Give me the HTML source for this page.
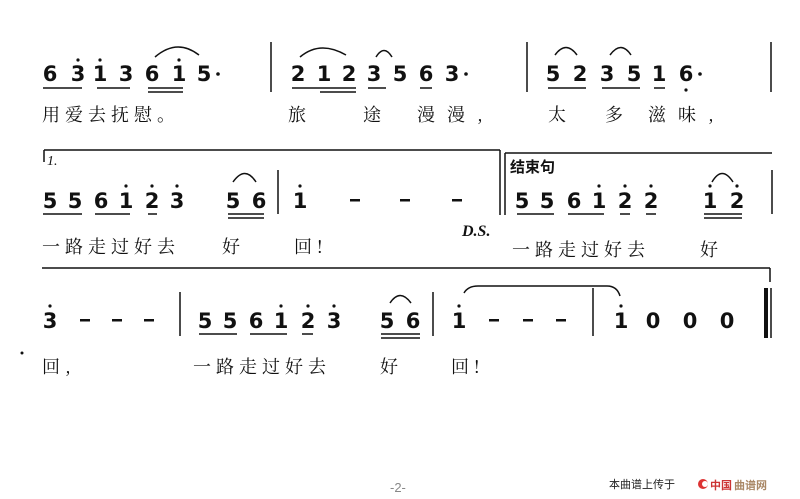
<!DOCTYPE html>
<html><head><meta charset="utf-8"><style>
body{margin:0;background:#fff}
svg{display:block}
.n{font:bold 21px "DejaVu Sans","Liberation Sans",sans-serif;fill:#111;text-anchor:middle}
.l{font:18px "Noto Serif CJK SC","Noto Sans CJK SC",serif;fill:#111;letter-spacing:5px}
</style></head><body>
<svg width="800" height="499" viewBox="0 0 800 499" xmlns="http://www.w3.org/2000/svg" stroke="#111" fill="none">
<!-- Row 1 -->
<g stroke="none">
<text class="n" x="50" y="81">6</text><text class="n" x="78" y="81">3</text><text class="n" x="100" y="81">1</text><text class="n" x="126" y="81">3</text><text class="n" x="152" y="81">6</text><text class="n" x="179" y="81">1</text><text class="n" x="204" y="81">5</text>
<circle cx="218" cy="74" r="1.8" fill="#111"/>
<circle cx="78" cy="60" r="1.6" fill="#111"/><circle cx="100" cy="60" r="1.6" fill="#111"/><circle cx="179" cy="60" r="1.6" fill="#111"/>
<text class="n" x="298" y="81">2</text><text class="n" x="324" y="81">1</text><text class="n" x="349" y="81">2</text><text class="n" x="374" y="81">3</text><text class="n" x="400" y="81">5</text><text class="n" x="426" y="81">6</text><text class="n" x="452" y="81">3</text>
<circle cx="466" cy="74" r="1.8" fill="#111"/>
<text class="n" x="553" y="81">5</text><text class="n" x="580" y="81">2</text><text class="n" x="607" y="81">3</text><text class="n" x="634" y="81">5</text><text class="n" x="659" y="81">1</text><text class="n" x="686" y="81">6</text>
<circle cx="700" cy="74" r="1.8" fill="#111"/><circle cx="686" cy="90" r="1.6" fill="#111"/>
</g>
<g stroke-width="1.5">
<path d="M43 88H82M97 88H130M148 88H183M148 92H183"/>
<path d="M292 88H356M320 92H356M368 88H386M420 88H432"/>
<path d="M548 88H586M602 88H640M654 88H665"/>
<path d="M271 42V92M527 42V92M771 42V92"/>
<path d="M155 57Q177 38 199 55M300 57Q320 40 346 55M376 57Q384 44 392 57M555 55Q566 40 577 55M610 55Q621 40 631 55"/>
</g>
<g stroke="none">
<text class="l" x="42" y="121">用爱去抚慰。</text>
<text class="l" x="288" y="121">旅</text><text class="l" x="363" y="121">途</text><text class="l" x="417" y="121" style="letter-spacing:12px">漫漫,</text>
<text class="l" x="548" y="121">太</text><text class="l" x="605" y="121">多</text><text class="l" x="648" y="121" style="letter-spacing:12px">滋味,</text>
</g>
<!-- Row 2 -->
<g stroke-width="1.5">
<path d="M44 150H500M44 150V162M505 153H772M505 153V215M500 150V215"/>
<path d="M43 214H82M95 214H130M148 214H157M228 214H264M228 218H264M278 170V214"/>
<path d="M517 214H554M568 214H604M620 214H630M646 214H656M704 214H742M704 218H742M772 170V214"/>
<path d="M233 182Q245 165 256 182M712 182Q722 165 733 182"/>
<path d="M42 268H770M770 268V282"/>
</g>
<g stroke="none">
<text x="47" y="165" style="font:italic 14px 'Liberation Serif',serif" fill="#111">1.</text>
<text class="n" x="50" y="208">5</text><text class="n" x="75" y="208">5</text><text class="n" x="101" y="208">6</text><text class="n" x="126" y="208">1</text><text class="n" x="152" y="208">2</text><text class="n" x="177" y="208">3</text><text class="n" x="233" y="208">5</text><text class="n" x="259" y="208">6</text>
<circle cx="126" cy="186" r="1.6" fill="#111"/><circle cx="152" cy="186" r="1.6" fill="#111"/><circle cx="177" cy="186" r="1.6" fill="#111"/>
<text class="n" x="300" y="208">1</text><circle cx="300" cy="186" r="1.6" fill="#111"/>
<rect x="350" y="199" width="10" height="2.5" fill="#111"/><rect x="400" y="199" width="10" height="2.5" fill="#111"/><rect x="452" y="199" width="10" height="2.5" fill="#111"/>
<text x="510" y="172" style="font:bold 15px 'Noto Sans CJK SC',sans-serif" fill="#111">结束句</text>
<text class="n" x="522" y="208">5</text><text class="n" x="547" y="208">5</text><text class="n" x="574" y="208">6</text><text class="n" x="599" y="208">1</text><text class="n" x="625" y="208">2</text><text class="n" x="651" y="208">2</text><text class="n" x="710" y="208">1</text><text class="n" x="737" y="208">2</text>
<circle cx="599" cy="186" r="1.6" fill="#111"/><circle cx="625" cy="186" r="1.6" fill="#111"/><circle cx="651" cy="186" r="1.6" fill="#111"/><circle cx="710" cy="186" r="1.6" fill="#111"/><circle cx="737" cy="186" r="1.6" fill="#111"/>
<text class="l" x="42" y="253">一路走过好去</text><text class="l" x="222" y="253">好</text><text class="l" x="294" y="253">回!</text>
<text x="462" y="236" style="font:bold italic 16px 'Liberation Serif',serif" fill="#111">D.S.</text>
<text class="l" x="512" y="256">一路走过好去</text><text class="l" x="700" y="256">好</text>
</g>
<!-- Row 3 -->
<g stroke="none">
<text class="n" x="50" y="328">3</text><circle cx="50" cy="306" r="1.6" fill="#111"/>
<rect x="80" y="319" width="10" height="2.5" fill="#111"/><rect x="112" y="319" width="10" height="2.5" fill="#111"/><rect x="144" y="319" width="10" height="2.5" fill="#111"/>
<text class="n" x="205" y="328">5</text><text class="n" x="230" y="328">5</text><text class="n" x="256" y="328">6</text><text class="n" x="281" y="328">1</text><text class="n" x="308" y="328">2</text><text class="n" x="334" y="328">3</text><text class="n" x="387" y="328">5</text><text class="n" x="413" y="328">6</text>
<circle cx="281" cy="306" r="1.6" fill="#111"/><circle cx="308" cy="306" r="1.6" fill="#111"/><circle cx="334" cy="306" r="1.6" fill="#111"/>
<text class="n" x="459" y="328">1</text><circle cx="459" cy="306" r="1.6" fill="#111"/>
<rect x="489" y="319" width="10" height="2.5" fill="#111"/><rect x="523" y="319" width="10" height="2.5" fill="#111"/><rect x="556" y="319" width="10" height="2.5" fill="#111"/>
<text class="n" x="621" y="328">1</text><circle cx="621" cy="306" r="1.6" fill="#111"/>
<text class="n" x="653" y="328">0</text><text class="n" x="690" y="328">0</text><text class="n" x="727" y="328">0</text>
<rect x="764" y="288" width="4" height="50" fill="#111"/>
</g>
<g stroke-width="1.5">
<path d="M180 292V336M433 292V336M593 288V336M771 288V338"/>
<path d="M199 334H237M250 334H287M302 334H313M381 334H420M381 338H420"/>
<path d="M464 293Q468 286 478 286H607Q617 286 620 296"/>
<path d="M390 303Q400 288 411 303"/>
</g>
<g stroke="none">
<circle cx="22" cy="353" r="1.5" fill="#111"/>
<text class="l" x="42" y="373">回,</text>
<text class="l" x="193" y="373">一路走过好去</text><text class="l" x="380" y="373">好</text><text class="l" x="451" y="373">回!</text>
<text x="390" y="492" style="font:13px 'Liberation Sans',sans-serif" fill="#888">-2-</text>
<text x="609" y="488" style="font:11px 'Noto Sans CJK SC',sans-serif" fill="#222">本曲谱上传于</text>
<circle cx="703" cy="484" r="5" fill="#d33"/><circle cx="705" cy="484" r="3" fill="#fff"/>
<text x="710" y="489" style="font:bold 11px 'Noto Sans CJK SC',sans-serif" fill="#c33">中国</text>
<text x="734" y="489" style="font:bold 11px 'Noto Sans CJK SC',sans-serif" fill="#a86">曲谱网</text>
</g>
</svg>
</body></html>
